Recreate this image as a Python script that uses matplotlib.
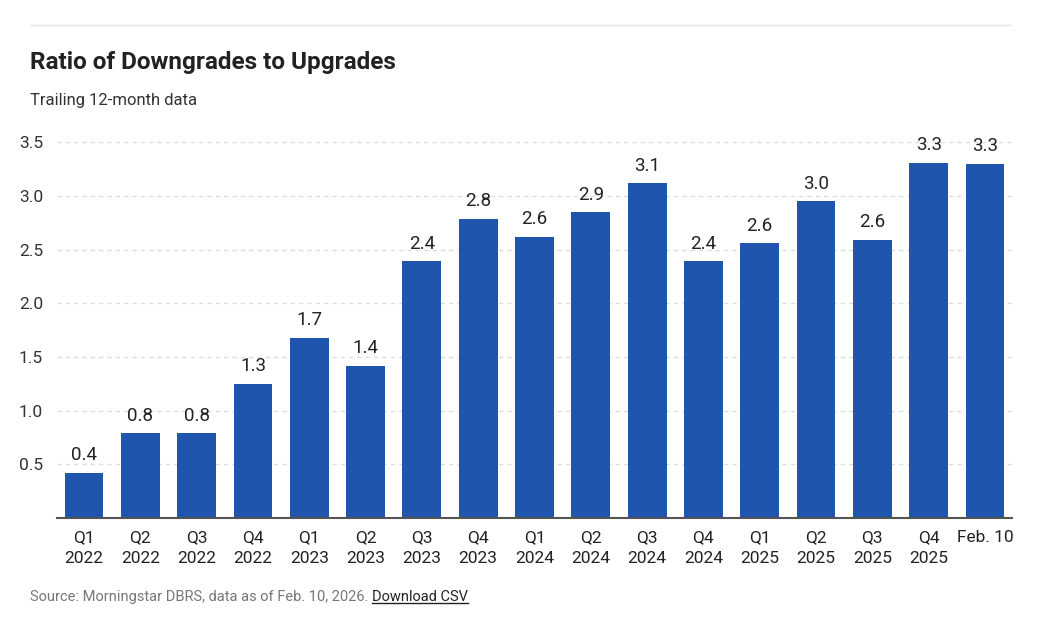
import matplotlib.pyplot as plt

plt.rcParams['font.family'] = ['Roboto', 'DejaVu Sans']

categories = ['Q1\n2022', 'Q2\n2022', 'Q3\n2022', 'Q4\n2022',
              'Q1\n2023', 'Q2\n2023', 'Q3\n2023', 'Q4\n2023',
              'Q1\n2024', 'Q2\n2024', 'Q3\n2024', 'Q4\n2024',
              'Q1\n2025', 'Q2\n2025', 'Q3\n2025', 'Q4\n2025', 'Feb. 10']
ratios = [0.42, 0.79, 0.79, 1.25, 1.68, 1.42, 2.39, 2.79, 2.62, 2.85,
          3.12, 2.39, 2.56, 2.95, 2.59, 3.31, 3.30]
labels = ['0.4', '0.8', '0.8', '1.3', '1.7', '1.4', '2.4', '2.8', '2.6', '2.9',
          '3.1', '2.4', '2.6', '3.0', '2.6', '3.3', '3.3']
yticks = [0.5, 1.0, 1.5, 2.0, 2.5, 3.0, 3.5]

W, H = 1037, 622
fig = plt.figure(figsize=(W / 100, H / 100), dpi=100)
ax = fig.add_axes([57 / W, (H - 518) / H, (1012 - 57) / W, (518 - 137) / H])

x = range(len(categories))
bars = ax.bar(x, ratios, width=0.69, color='#2055ae', zorder=3)
for b, lab in zip(bars, labels):
    ax.text(b.get_x() + b.get_width() / 2, b.get_height() + 0.08, lab,
            ha='center', va='bottom', fontsize=13.5, color='#222222')

ax.set_xlim(-0.48, len(categories) - 0.52)
ax.set_ylim(0, 3.55)
ax.set_yticks(yticks)
ax.set_yticklabels([f'{v:.1f}' for v in yticks])
ax.set_xticks(list(x))
ax.set_xticklabels(categories, fontsize=12.5, color='#222222', linespacing=1.45)
ax.tick_params(axis='y', length=0, labelsize=12.5, labelcolor='#333333', pad=8)
ax.tick_params(axis='x', length=0, pad=9)
for lbl in ax.get_yticklabels():
    lbl.set_horizontalalignment('left')
    lbl.set_x(-27 / (1012 - 57))

ax.grid(axis='y', color='#dddddd', linestyle=(0, (3, 3)), linewidth=1, zorder=0)
for s in ['top', 'right', 'left']:
    ax.spines[s].set_visible(False)
ax.spines['bottom'].set_color('#555555')
ax.spines['bottom'].set_linewidth(1.5)
ax.spines['bottom'].set_zorder(4)

fig.add_artist(plt.Line2D([30 / W, 1010 / W], [1 - 25 / H, 1 - 25 / H], color='#e5e5e5', linewidth=1))
fig.text(30 / W, 1 - 62 / H, 'Ratio of Downgrades to Upgrades', fontsize=17.5, fontweight='bold',
         color='#222222', va='center')
fig.text(30 / W, 1 - 100 / H, 'Trailing 12-month data', fontsize=12, color='#333333', va='center')

src = fig.text(30 / W, 1 - 597 / H, 'Source: Morningstar DBRS, data as of Feb. 10, 2026. ',
               fontsize=10.5, color='#777777', va='center')
fig.canvas.draw()
bb = src.get_window_extent()
dl = fig.text(bb.x1 / W, 1 - 597 / H, 'Download CSV', fontsize=10.5, color='#222222', va='center')
fig.canvas.draw()
bb2 = dl.get_window_extent()
fig.add_artist(plt.Line2D([bb2.x0 / W, bb2.x1 / W], [(bb2.y0 + 1) / H, (bb2.y0 + 1) / H],
                          color='#222222', linewidth=1))

fig.savefig('out.png', dpi=100)
